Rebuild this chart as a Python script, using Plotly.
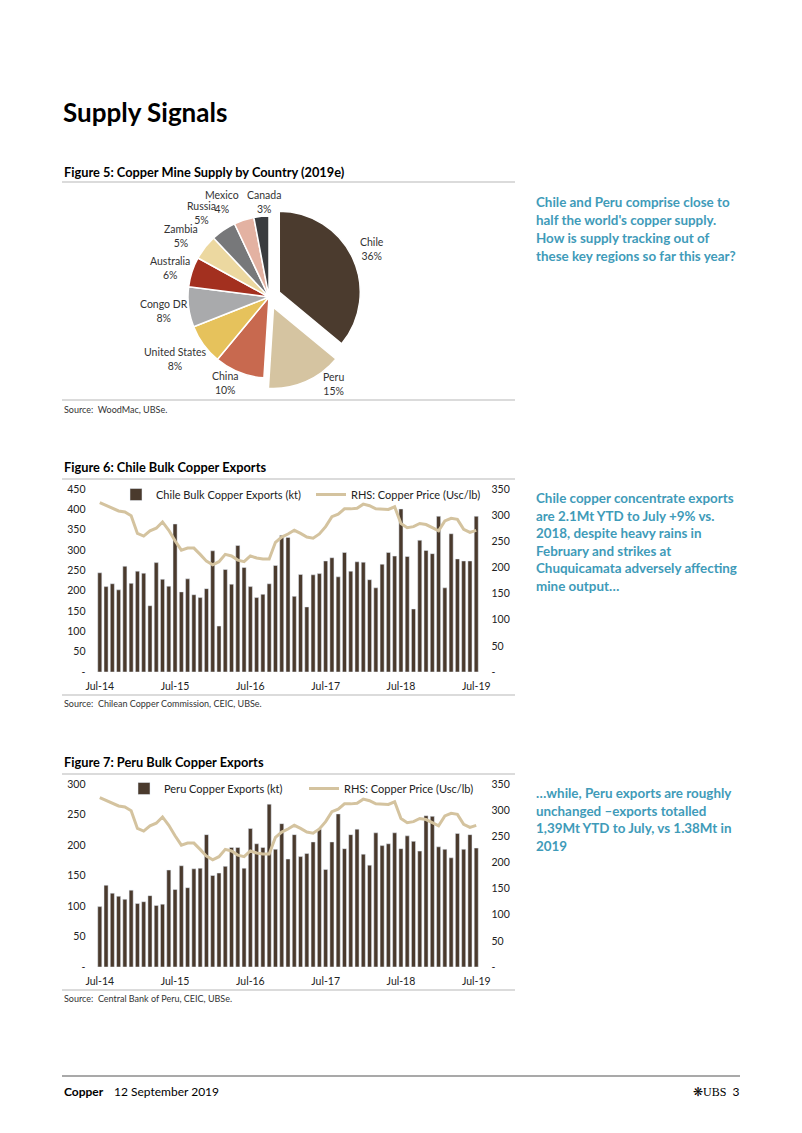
import plotly.graph_objects as go
import pandas as pd

# The page body adds an 8px margin, so the figure is sized to fill the rest
OFF = 8
W, H = 802 - OFF, 1133 - OFF


def px(x):
    return (x - OFF) / W


def py(y):
    return 1 - (y - OFF) / H


# ---------------- data ----------------
countries = ["Chile", "Peru", "China", "United States", "Congo DR",
             "Australia", "Zambia", "Russia", "Mexico", "Canada"]
shares = [36, 15, 10, 8, 8, 6, 5, 5, 4, 3]

months = pd.date_range("2014-07-01", "2019-07-01", freq="MS").strftime("%b-%y").tolist()

chile_exports = [244, 210, 217, 202, 260, 218, 248, 243, 163, 269, 228, 211, 364,
                 197, 229, 190, 183, 205, 298, 113, 252, 216, 311, 257, 210, 183,
                 191, 217, 262, 336, 331, 186, 240, 160, 239, 242, 273, 281, 234,
                 294, 248, 271, 270, 227, 207, 265, 294, 285, 401, 284, 155, 324,
                 299, 291, 383, 207, 340, 278, 273, 273, 383]

peru_exports = [99, 134, 121, 116, 111, 126, 104, 107, 117, 101, 103, 159, 127,
                166, 130, 161, 162, 217, 150, 154, 165, 196, 196, 162, 227, 202,
                196, 267, 193, 235, 177, 217, 181, 186, 205, 226, 160, 205, 251,
                194, 217, 226, 185, 167, 220, 199, 202, 220, 194, 215, 206, 190,
                248, 247, 197, 193, 179, 219, 193, 217, 195]

copper_price = [324, 319, 313, 308, 306, 299, 265, 260, 270, 275, 287, 271, 251,
                233, 237, 237, 225, 212, 205, 211, 225, 222, 214, 211, 222, 218,
                216, 216, 248, 258, 264, 271, 265, 258, 256, 264, 278, 297, 302,
                312, 312, 313, 321, 318, 312, 312, 311, 316, 284, 276, 278, 284,
                282, 276, 270, 289, 294, 292, 273, 267, 271]

x_tick_labels = ["Jul-14", "Jul-15", "Jul-16", "Jul-17", "Jul-18", "Jul-19"]
chile_left_ticks = [0, 50, 100, 150, 200, 250, 300, 350, 400, 450]
peru_left_ticks = [0, 50, 100, 150, 200, 250, 300]
price_ticks = [0, 50, 100, 150, 200, 250, 300, 350]

# ---------------- styles ----------------
FONT = "Lato"
BAR_COLOR = "#4a3a2d"
LINE_COLOR = "#d4c39f"
BLUE = "#3f9bb9"
RULE = "#cfcfcf"
pie_colors = ["#4b3b2e", "#d5c4a1", "#c8694f", "#e6c25c", "#a9aaac",
              "#a3301f", "#ecd8a0", "#77787a", "#e3b2a2", "#3a3c3f"]
pie_pull = [0.14, 0.14, 0, 0, 0, 0, 0, 0, 0, 0]
# label anchor positions (page pixels) for the pie labels
pie_label_pos = [(372, 249), (333, 384), (225, 383), (175, 359), (164, 311),
                 (170, 268), (181, 236), (201, 213), (222, 202), (264, 202)]


def dash_text(v):
    return "-" if v == 0 else str(v)


fig = go.Figure()

# ---------------- pie ----------------
cx, cy, r = 269, 297, 81
half = r * 1.14
fig.add_trace(go.Pie(
    labels=countries, values=shares, sort=False, direction="clockwise",
    rotation=0, pull=pie_pull,
    marker=dict(colors=pie_colors, line=dict(color="white", width=1.5)),
    textinfo="none", showlegend=False, automargin=False, hoverinfo="skip",
    domain=dict(x=[px(cx - half), px(cx + half)], y=[py(cy + half), py(cy - half)]),
))

# ---------------- Chile chart ----------------
fig.add_trace(go.Bar(x=months, y=chile_exports, name="Chile Bulk Copper Exports (kt)",
                     marker_color=BAR_COLOR, xaxis="x", yaxis="y", legend="legend"))
fig.add_trace(go.Scatter(x=months, y=copper_price, name="RHS: Copper Price (Usc/lb)",
                         mode="lines", line=dict(color=LINE_COLOR, width=3),
                         xaxis="x", yaxis="y2", legend="legend"))

# ---------------- Peru chart ----------------
fig.add_trace(go.Bar(x=months, y=peru_exports, name="Peru Copper Exports (kt)",
                     marker_color=BAR_COLOR, xaxis="x2", yaxis="y3", legend="legend2"))
fig.add_trace(go.Scatter(x=months, y=copper_price, name="RHS: Copper Price (Usc/lb)",
                         mode="lines", line=dict(color=LINE_COLOR, width=3),
                         xaxis="x2", yaxis="y4", legend="legend2"))

x_left, x_right = 93.5, 482.5
tickfont = dict(family=FONT, size=10.5, color="#222222")

common_x = dict(type="category", range=[-1, 61], showgrid=False, zeroline=False,
                showline=False, ticks="", tickvals=x_tick_labels, ticktext=x_tick_labels,
                tickfont=tickfont, domain=[px(x_left), px(x_right)], ticklabelstandoff=6)

fig.update_layout(
    width=W, height=H, margin=dict(l=0, r=0, t=0, b=0, pad=0, autoexpand=False),
    paper_bgcolor="white", plot_bgcolor="rgba(0,0,0,0)",
    bargap=0.35, font=dict(family=FONT, color="#222222"),
    xaxis=dict(**common_x, anchor="y"),
    yaxis=dict(domain=[py(672), py(489)], range=[0, 450], tickvals=chile_left_ticks,
               ticktext=[dash_text(v) for v in chile_left_ticks], showgrid=False,
               zeroline=False, ticks="", tickfont=tickfont, anchor="x", ticklabelstandoff=7),
    yaxis2=dict(overlaying="y", side="right", anchor="x", range=[0, 350],
                tickvals=price_ticks, ticktext=[dash_text(v) for v in price_ticks],
                showgrid=False, zeroline=False, ticks="", tickfont=tickfont,
                ticklabelstandoff=8),
    xaxis2=dict(**common_x, anchor="y3"),
    yaxis3=dict(domain=[py(967), py(784)], range=[0, 300], tickvals=peru_left_ticks,
                ticktext=[dash_text(v) for v in peru_left_ticks], showgrid=False,
                zeroline=False, ticks="", tickfont=tickfont, anchor="x2", ticklabelstandoff=7),
    yaxis4=dict(overlaying="y3", side="right", anchor="x2", range=[0, 350],
                tickvals=price_ticks, ticktext=[dash_text(v) for v in price_ticks],
                showgrid=False, zeroline=False, ticks="", tickfont=tickfont,
                ticklabelstandoff=8),
    legend=dict(x=px(116), y=py(480), xanchor="left", yanchor="top", orientation="h",
                font=dict(family=FONT, size=11, color="#222222"),
                bgcolor="rgba(0,0,0,0)", entrywidth=150, itemwidth=30),
    legend2=dict(x=px(124), y=py(774), xanchor="left", yanchor="top", orientation="h",
                 font=dict(family=FONT, size=11, color="#222222"),
                 bgcolor="rgba(0,0,0,0)", entrywidth=135, itemwidth=30),
)

# ---------------- rules ----------------
shapes = []
for yy in [182, 400, 479, 695, 774, 990]:
    shapes.append(dict(type="line", xref="paper", yref="paper", x0=px(62), x1=px(515),
                       y0=py(yy), y1=py(yy), line=dict(color=RULE, width=1.5)))
shapes.append(dict(type="line", xref="paper", yref="paper", x0=px(62), x1=px(740),
                   y0=py(1076), y1=py(1076), line=dict(color="#555555", width=1.2)))
shapes.append(dict(type="line", xref="paper", yref="paper", x0=px(800.5), x1=px(800.5),
                   y0=py(OFF), y1=py(1133), line=dict(color="#9a9a9a", width=1)))
fig.update_layout(shapes=shapes)

# ---------------- texts ----------------
ann = []


def text(x, y, s, size, bold=False, color="#000000", family=FONT, xanchor="left"):
    ann.append(dict(x=px(x), y=py(y), xref="paper", yref="paper", text=(f"<b>{s}</b>" if bold else s),
                    showarrow=False, xanchor=xanchor, yanchor="middle",
                    font=dict(family=family, size=size, color=color)))


# pie labels from the data arrays
for name, val, (lx, ly) in zip(countries, shares, pie_label_pos):
    text(lx, ly, f"{name}<br>{val}%", 10.5, color="#333333", xanchor="center")

text(61, 112, "Supply Signals", 26, bold=True)
text(62, 172, "Figure 5: Copper Mine Supply by Country (2019e)", 12.8, bold=True)
text(62, 409, "Source:  WoodMac, UBSe.", 9, color="#333333")
text(62, 467, "Figure 6: Chile Bulk Copper Exports", 12.8, bold=True)
text(62, 703, "Source:  Chilean Copper Commission, CEIC, UBSe.", 9, color="#333333")
text(62, 762, "Figure 7: Peru Bulk Copper Exports", 12.8, bold=True)
text(62, 998, "Source:  Central Bank of Peru, CEIC, UBSe.", 9, color="#333333")

blue1 = ["Chile and Peru comprise close to", "half the world's copper supply.",
         "How is supply tracking out of", "these key regions so far this year?"]
for i, s in enumerate(blue1):
    text(534, 202 + 18 * i, s, 13.4, bold=True, color=BLUE)

blue2 = ["Chile copper concentrate exports", "are 2.1Mt YTD to July +9% vs.",
         "2018, despite heavy rains in", "February and strikes at",
         "Chuquicamata adversely affecting", "mine output\u2026"]
for i, s in enumerate(blue2):
    text(534, 498 + 17.5 * i, s, 13.4, bold=True, color=BLUE)

blue3 = ["\u2026while, Peru exports are roughly", "unchanged \u2013exports totalled",
         "1,39Mt YTD to July, vs 1.38Mt in", "2019"]
for i, s in enumerate(blue3):
    text(534, 793 + 17.5 * i, s, 13.4, bold=True, color=BLUE)

text(62, 1091, "Copper", 12, bold=True)
text(112, 1091, "12 September 2019", 12)
text(741, 1091, "\u274b<span style='font-family:Liberation Serif'>UBS</span>  3", 12, xanchor="right")

fig.update_layout(annotations=ann)

fig.write_html("out.html")
